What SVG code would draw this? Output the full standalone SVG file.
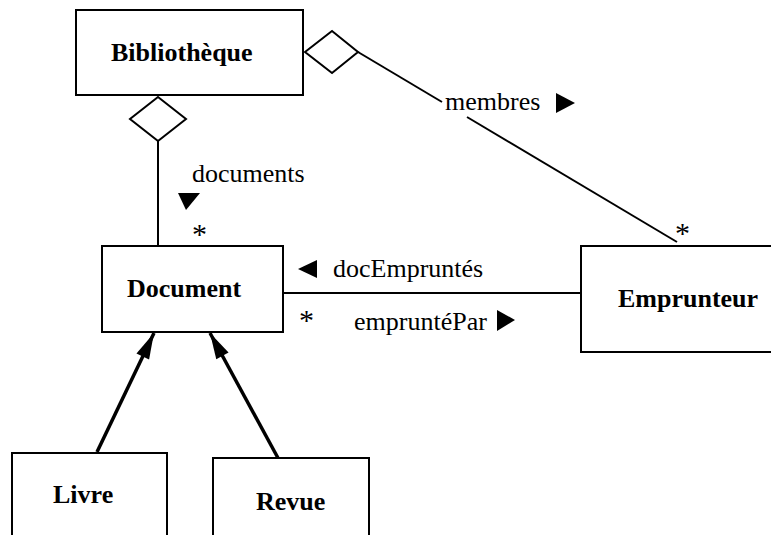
<svg xmlns="http://www.w3.org/2000/svg" width="771" height="535" viewBox="0 0 771 535">
<style>
.box{fill:#fff;stroke:#000;stroke-width:2}
.name{font-family:'Liberation Serif',serif;font-weight:bold;font-size:26px;fill:#000}
.lbl{font-family:'Liberation Serif',serif;font-size:26px;fill:#000}
.ast{font-family:'Liberation Serif',serif;font-size:30px;fill:#000}
.ln{stroke:#000;stroke-width:2;fill:none}
.gen{stroke:#000;stroke-width:3.5;fill:none;marker-end:url(#tri)}
.dia{fill:#fff;stroke:#000;stroke-width:2}
.dir{fill:#000}
</style>
<defs>
<marker id="tri" markerUnits="userSpaceOnUse" markerWidth="30" markerHeight="20" viewBox="0 -10 28 20" refX="26" refY="0" orient="auto">
<path d="M0,-7 L26,0 L0,7 z" fill="#000"/>
</marker>
</defs>
<rect width="771" height="535" fill="#fff"/>
<g id="connectors">
<line class="ln" x1="158" y1="141" x2="158" y2="246"/>
<line class="ln" x1="358" y1="52" x2="442" y2="102"/>
<line class="ln" x1="467" y1="117" x2="677" y2="242"/>
<line class="ln" x1="283" y1="293" x2="581" y2="293"/>
<line class="gen" x1="97" y1="452" x2="154" y2="333"/>
<line class="gen" x1="278" y1="458" x2="210" y2="333"/>
<polygon class="dia" points="158,97 186,119 158,141 130,119"/>
<polygon class="dia" points="305,52 332,31 358,52 332,73"/>
<text class="lbl" x="192" y="182">documents</text>
<polygon class="dir" points="178,193 200,193 186,210"/>
<text class="ast" x="192" y="244">*</text>
<text class="lbl" x="445" y="110">membres</text>
<polygon class="dir" points="556,93 556,113 575,103"/>
<text class="ast" x="675" y="243">*</text>
<text class="lbl" x="333" y="277">docEmpruntés</text>
<polygon class="dir" points="317,260 317,278 298,269"/>
<text class="ast" x="299" y="330">*</text>
<text class="lbl" x="354" y="330">empruntéPar</text>
<polygon class="dir" points="497,310 497,331 515,320"/>
</g>
<g id="bibliotheque">
<rect class="box" x="76" y="10" width="227" height="85"/>
<text class="name" x="111" y="61">Bibliothèque</text>
</g>
<g id="document">
<rect class="box" x="102" y="246" width="181" height="86"/>
<text class="name" x="127" y="297">Document</text>
</g>
<g id="emprunteur">
<rect class="box" x="581" y="246" width="200" height="106"/>
<text class="name" x="618" y="307">Emprunteur</text>
</g>
<g id="livre">
<rect class="box" x="12" y="453" width="155" height="100"/>
<text class="name" x="53" y="503">Livre</text>
</g>
<g id="revue">
<rect class="box" x="213" y="458" width="156" height="100"/>
<text class="name" x="256" y="510">Revue</text>
</g>
</svg>
